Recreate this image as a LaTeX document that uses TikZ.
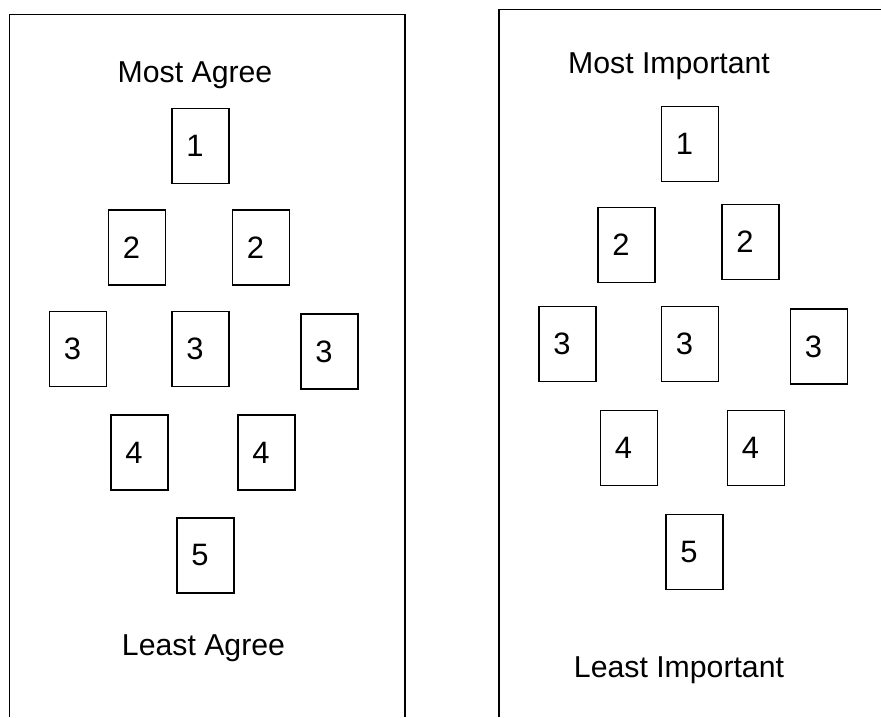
\documentclass[tikz,border=0pt]{standalone}
\usepackage{fontspec}
\setmainfont{Liberation Sans}
\usetikzlibrary{positioning}

\tikzset{
  card/.style={draw, line width=1pt, minimum width=1.425cm, minimum height=1.875cm,
    inner sep=0pt, font=\fontsize{22}{26}\selectfont,
    execute at end node={\hspace{8pt}}},
  heading/.style={anchor=base, font=\fontsize{21.5}{25}\selectfont},
  panel/.style={line width=1.1pt}
}

\begin{document}
\begin{tikzpicture}[x=0.025cm, y=-0.025cm]
\useasboundingbox (0,0) rectangle (881,717);

% open frames
\draw[panel] (9.5,717) -- (9.5,14.5) -- (405,14.5) -- (405,717);
\draw[panel] (499,717) -- (499,9.5) -- (881,9.5);

% left panel
\node[heading] (agreeTop) at (195,82) {Most Agree};
\node[card] (a1) at (200.5,146) {1};
\node[card] (a2l) at (137,247.5) {2};
\node[card] (a2r) at (261,247.5) {2};
\node[card] (a3l) at (78,349) {3};
\node[card] (a3m) at (200.5,349) {3};
\node[card] (a3r) at (329.5,351.5) {3};
\node[card] (a4l) at (139.5,452.5) {4};
\node[card] (a4r) at (266.5,452.5) {4};
\node[card] (a5) at (205.5,555.5) {5};
\node[heading] (agreeBot) at (203.5,655) {Least Agree};

% right panel
\node[heading] (impTop) at (669,73) {Most Important};
\node[card] (b1) at (690,144) {1};
\node[card] (b2l) at (626.5,245) {2};
\node[card] (b2r) at (750.5,242) {2};
\node[card] (b3l) at (567.5,344) {3};
\node[card] (b3m) at (690,344) {3};
\node[card] (b3r) at (819,346.5) {3};
\node[card] (b4l) at (629,448) {4};
\node[card] (b4r) at (756,448) {4};
\node[card] (b5) at (694.5,552) {5};
\node[heading] (impBot) at (679,677) {Least Important};
\end{tikzpicture}
\end{document}
